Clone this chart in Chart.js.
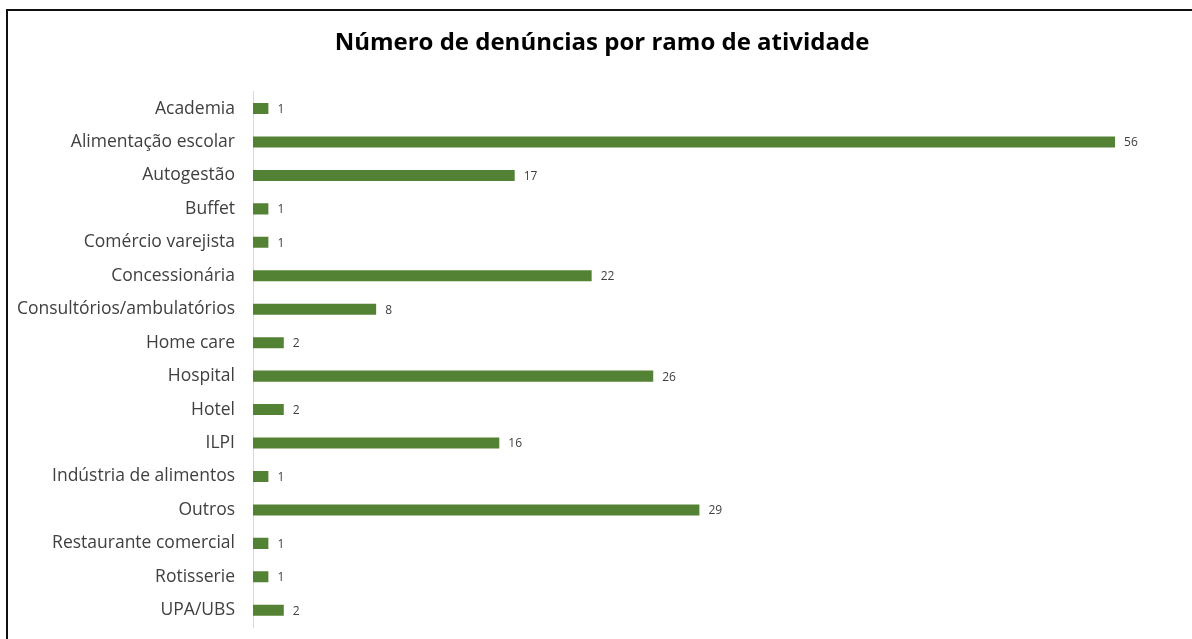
<!DOCTYPE html>
<html>
<head>
<meta charset="utf-8">
<script src="https://cdn.jsdelivr.net/npm/chart.js@4/dist/chart.umd.min.js"></script>
<style>
    html, body { margin: 0; background: #fff; overflow: hidden; }
    .frame {
        position: absolute;
        left: 6px;
        top: 9px;
        width: 1300px;
        height: 800px;
        border-top: 2px solid #111;
        border-left: 2px solid #111;
    }
    #wrap { position: absolute; left: 0; top: 0; width: 1192px; height: 639px; }
</style>
</head>
<body>
<div class="frame"></div>
<div id="wrap"><canvas id="chart"></canvas></div>
<script>
// Chart data
const categories = [
    'Academia', 'Alimentação escolar', 'Autogestão', 'Buffet', 'Comércio varejista',
    'Concessionária', 'Consultórios/ambulatórios', 'Home care', 'Hospital', 'Hotel',
    'ILPI', 'Indústria de alimentos', 'Outros', 'Restaurante comercial', 'Rotisserie', 'UPA/UBS'
];
const denuncias = [1, 56, 17, 1, 1, 22, 8, 2, 26, 2, 16, 1, 29, 1, 1, 2];

const FONT = '"Open Sans", Lato, sans-serif';

// Value labels at the end of each bar
const barLabels = {
    id: 'barLabels',
    afterDatasetsDraw(chart) {
        const ctx = chart.ctx;
        const meta = chart.getDatasetMeta(0);
        ctx.save();
        ctx.font = '12px ' + FONT;
        ctx.fillStyle = '#404040';
        ctx.textAlign = 'left';
        ctx.textBaseline = 'middle';
        meta.data.forEach((bar, i) => {
            ctx.fillText(String(denuncias[i]), bar.x + 9, bar.y + 1);
        });
        ctx.restore();
    }
};

new Chart(document.getElementById('chart'), {
    type: 'bar',
    data: {
        labels: categories,
        datasets: [{
            data: denuncias,
            backgroundColor: '#548235',
            categoryPercentage: 1,
            barPercentage: 0.33
        }]
    },
    options: {
        indexAxis: 'y',
        responsive: true,
        maintainAspectRatio: false,
        animation: false,
        layout: { padding: { left: 12, right: 0, top: 0, bottom: 12 } },
        plugins: {
            legend: { display: false },
            tooltip: { enabled: false },
            title: {
                display: true,
                text: 'Número de denúncias por ramo de atividade',
                color: '#000',
                font: { family: FONT, size: 24, weight: 'bold' },
                padding: { top: 29, bottom: 34 }
            }
        },
        scales: {
            x: {
                display: false,
                min: 0,
                max: 61
            },
            y: {
                afterFit(scale) {
                    scale.width = 241;
                    // labels sit inside the category band, no extra margin needed
                    scale.paddingTop = 0;
                    scale.paddingBottom = 0;
                },
                grid: { display: false, drawTicks: false },
                border: { display: true, color: '#d9d9d9', width: 1 },
                ticks: {
                    color: '#404040',
                    padding: 18,
                    font: { family: FONT, size: 17.5 }
                }
            }
        }
    },
    plugins: [barLabels]
});
</script>
</body>
</html>
